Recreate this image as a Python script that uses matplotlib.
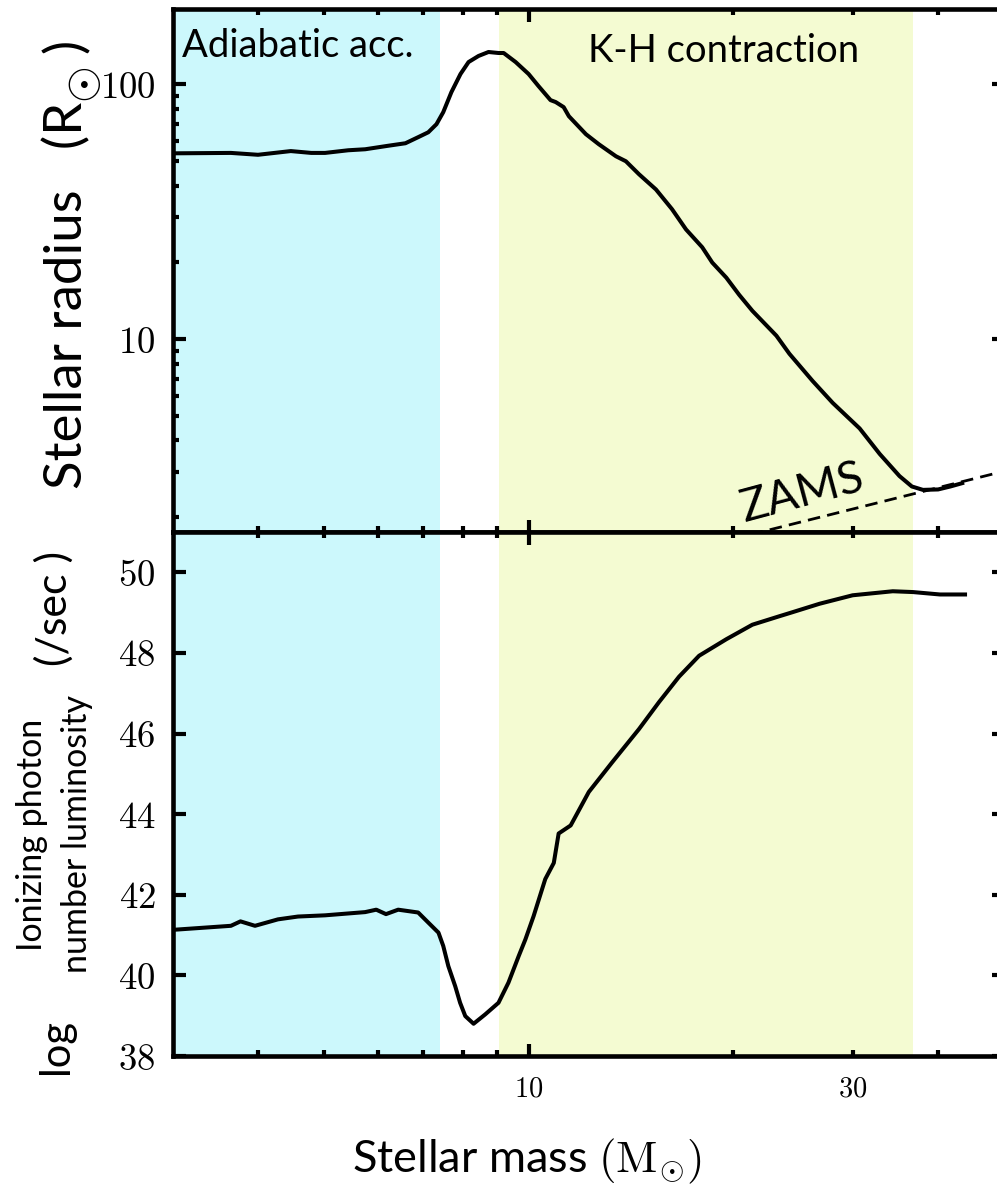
import numpy as np
import matplotlib
matplotlib.use("Agg")
import matplotlib.pyplot as plt
from matplotlib.ticker import FixedLocator, FixedFormatter, NullFormatter, LogLocator, FuncFormatter

plt.rcParams['font.family'] = ['Lato', 'DejaVu Sans']
plt.rcParams['mathtext.fontset'] = 'cm'

# stellar radius (R_sun) vs stellar mass (M_sun)
mass_r = [3.0, 3.65, 4.0, 4.47, 4.79, 5.02, 5.43, 5.75, 6.22, 6.59, 6.88, 7.12,
          7.32, 7.49, 7.70, 7.94, 8.16, 8.44, 8.73, 9.03, 9.19, 9.57, 10.0,
          10.34, 10.77, 10.96, 11.26, 11.46, 12.14, 12.68, 13.44, 13.90, 14.53,
          15.39, 16.25, 17.04, 18.00, 18.62, 19.53, 20.40, 21.33, 23.14, 24.18,
          26.15, 27.99, 30.67, 32.83, 35.1, 36.6, 38.0, 40.0, 41.7, 43.4]
radius = [53.5, 53.7, 52.8, 54.6, 53.7, 53.7, 55.0, 55.5, 57.3, 58.6, 61.9, 64.7,
          69.6, 77.6, 93.0, 109.5, 122, 128.9, 133.6, 132.4, 132.4, 122, 109.5,
          98.2, 86.5, 85.0, 81.2, 74.8, 63.6, 58.1, 52.1, 49.8, 44.3,
          38.6, 32.3, 26.9, 22.9, 19.95, 17.4, 14.9, 12.9, 10.3, 8.75,
          6.85, 5.62, 4.46, 3.54, 2.9, 2.64, 2.56, 2.57, 2.64, 2.72]

# zero-age main sequence
zams_mass = [21.2, 50.0]
zams_radius = [1.71, 3.03]

# log ionizing photon number luminosity (/sec)
mass_q = [3.0, 3.65, 3.77, 3.96, 4.28, 4.58, 5.02, 5.75, 5.97, 6.17, 6.43, 6.88,
          7.12, 7.37, 7.49, 7.62, 7.80, 7.93, 8.07, 8.30, 8.63, 9.03, 9.34,
          9.67, 9.89, 10.17, 10.58, 10.89, 11.07, 11.53, 12.26, 13.26, 14.53,
          15.55, 16.64, 17.81, 19.53, 21.33, 23.37, 24.43, 26.78, 29.95, 34.31,
          36.73, 40.25, 43.82]
logq = [41.13, 41.23, 41.34, 41.23, 41.39, 41.46, 41.49, 41.57, 41.63, 41.52, 41.63, 41.56,
        41.31, 41.06, 40.73, 40.23, 39.73, 39.32, 38.99, 38.80, 39.03, 39.32, 39.82,
        40.48, 40.89, 41.47, 42.39, 42.79, 43.52, 43.72, 44.55, 45.28, 46.11,
        46.78, 47.41, 47.93, 48.34, 48.70, 48.91, 49.01, 49.22, 49.43, 49.53,
        49.51, 49.45, 49.45]

# phases
adiabatic = (3.0, 7.41)
kh = (9.05, 36.7)

W, H = 997, 1184
fig = plt.figure(figsize=(W / 100, H / 100), dpi=100)
ax1 = fig.add_axes([173 / W, 1 - 532 / H, 831 / W, 523 / H])
ax2 = fig.add_axes([173 / W, 1 - 1056 / H, 831 / W, 524 / H])

cyan = '#ccf8fc'
yellow = '#f4fbd2'

for ax in (ax1, ax2):
    ax.axvspan(*adiabatic, color=cyan, lw=0, zorder=0)
    ax.axvspan(*kh, color=yellow, lw=0, zorder=0)
    ax.set_xscale('log')
    ax.set_xlim(3, 50)
    ax.xaxis.set_major_locator(FixedLocator([10]))
    ax.xaxis.set_minor_locator(FixedLocator([4, 5, 6, 7, 8, 9, 20, 30, 40]))
    ax.tick_params(which='both', direction='in', top=True, right=True, width=3)
    ax.tick_params(which='major', length=9)
    ax.tick_params(which='minor', length=4.5)
    for sp in ax.spines.values():
        sp.set_linewidth(3.3)

# top panel
ax1.plot(zams_mass, zams_radius, color='k', lw=2, ls=(0, (4.5, 2.6)))
ax1.plot(mass_r, radius, color='k', lw=2.9, solid_joinstyle='round')
ax1.set_yscale('log')
ax1.set_ylim(1.75, 197)
ax1.yaxis.set_major_locator(FixedLocator([10, 100]))
ax1.yaxis.set_major_formatter(FixedFormatter(['$10$', '$100$']))
ax1.yaxis.set_minor_locator(LogLocator(subs=np.arange(2, 10)))
ax1.yaxis.set_minor_formatter(NullFormatter())
ax1.tick_params(axis='x', which='both', labelbottom=False)
ax1.tick_params(axis='y', which='major', labelsize=26.5, pad=12.5)

ax1.text(0.0108, 0.908, 'Adiabatic acc.', transform=ax1.transAxes,
         fontsize=27.5, ha='left', va='baseline')
ax1.text(0.663, 0.898, 'K-H contraction', transform=ax1.transAxes,
         fontsize=27.5, ha='center', va='baseline')
ax1.text(25.3, 2.49, 'ZAMS', rotation=15, fontsize=33, ha='center', va='center')

# bottom panel
ax2.plot(mass_q, logq, color='k', lw=2.9, solid_joinstyle='round')
ax2.set_ylim(38, 51)
yt = list(range(38, 51, 2))
ax2.yaxis.set_major_locator(FixedLocator(yt))
ax2.yaxis.set_major_formatter(FixedFormatter(['$%d$' % v for v in yt]))
ax2.xaxis.set_major_formatter(FixedFormatter(['$10$']))
ax2.xaxis.set_minor_formatter(FuncFormatter(lambda v, p: '$30$' if abs(v - 30) < 1e-6 else ''))
ax2.tick_params(axis='y', which='major', labelsize=26.5, pad=12.5)
ax2.tick_params(axis='x', which='both', labelsize=20.5, pad=14)

# axis labels (pixel positions turned into figure fractions)
def fx(px):
    return px / W

def fy(py):
    return 1 - py / H

fig.text(fx(82), fy(102), 'Stellar radius   (R', rotation=90, rotation_mode='anchor',
         fontsize=38, ha='right', va='baseline')
fig.text(fx(83), fy(83), '$\\odot$', fontsize=34, ha='center', va='center')
fig.text(fx(82), fy(53), ')', rotation=90, rotation_mode='anchor',
         fontsize=38, ha='left', va='baseline')

fig.text(fx(54), fy(608), '(/sec )', rotation=90, fontsize=31, ha='center', va='center')
fig.text(fx(32), fy(835), 'Ionizing photon', rotation=90, fontsize=24.5,
         ha='center', va='center')
fig.text(fx(77), fy(834), 'number luminosity', rotation=90, fontsize=24.5,
         ha='center', va='center')
fig.text(fx(56), fy(1047), 'log', rotation=90, fontsize=30, ha='center', va='center')
fig.text(fx(527), fy(1172), 'Stellar mass $(\\mathrm{M}_{\\odot})$',
         fontsize=32.5, ha='center', va='baseline')

fig.savefig('out.png', dpi=100)
